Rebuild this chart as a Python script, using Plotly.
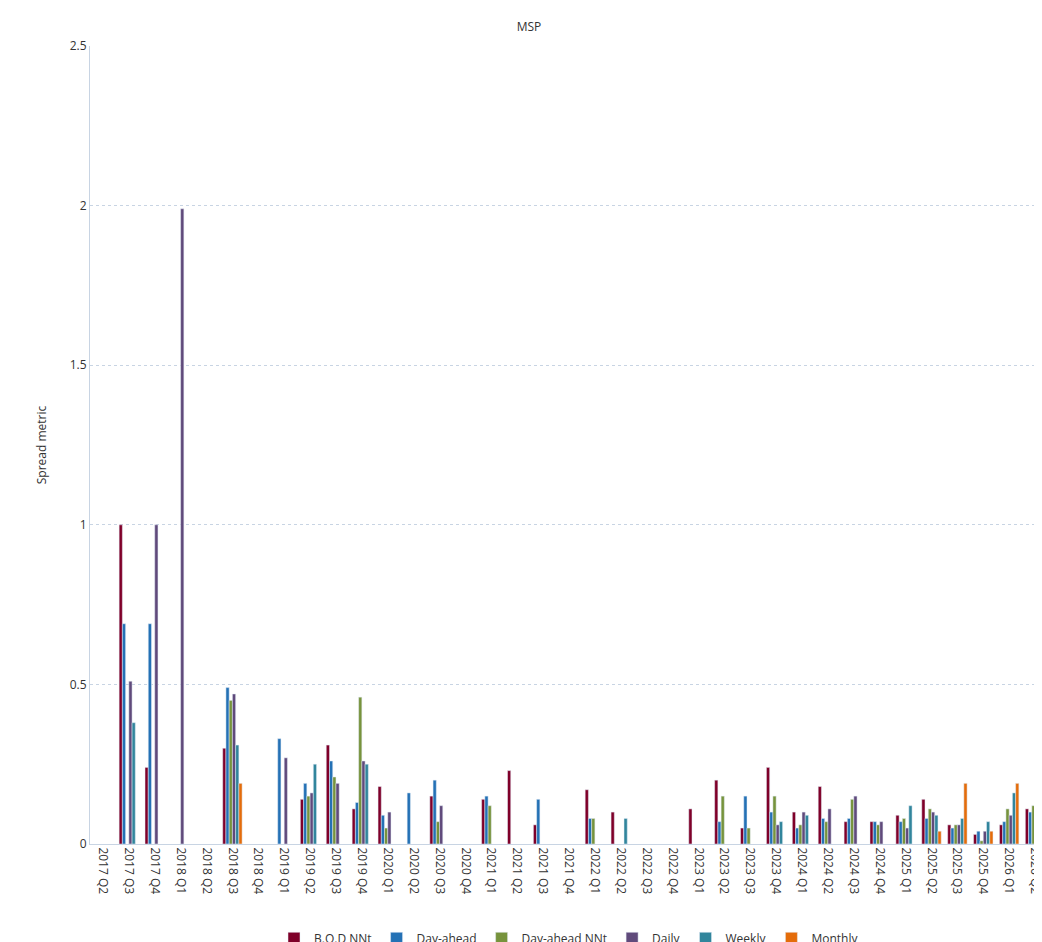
import plotly.graph_objects as go

quarters = [f"{y} Q{q}" for y in range(2017, 2027) for q in range(1, 5)][1:38]

N = None
bod = [N, 1.0, 0.24, N, N, 0.30, N, N, 0.14, 0.31, 0.11, 0.18, N, 0.15, N, 0.14, 0.23, 0.06, N, 0.17, 0.10, N, N, 0.11, 0.20, 0.05, 0.24, 0.10, 0.18, 0.07, 0.07, 0.09, 0.14, 0.06, 0.03, 0.06, 0.11]
day_ahead = [N, 0.69, 0.69, N, N, 0.49, N, 0.33, 0.19, 0.26, 0.13, 0.09, 0.16, 0.20, N, 0.15, N, 0.14, N, 0.08, N, N, N, N, 0.07, 0.15, 0.10, 0.05, 0.08, 0.08, 0.07, 0.07, 0.08, 0.05, 0.04, 0.07, 0.10]
day_ahead_nnt = [N, N, N, N, N, 0.45, N, N, 0.15, 0.21, 0.46, 0.05, N, 0.07, N, 0.12, N, N, N, 0.08, N, N, N, N, 0.15, 0.05, 0.15, 0.06, 0.07, 0.14, 0.06, 0.08, 0.11, 0.06, 0.01, 0.11, 0.12]
daily = [N, 0.51, 1.0, 1.99, N, 0.47, N, 0.27, 0.16, 0.19, 0.26, 0.10, N, 0.12, N, N, N, N, N, N, N, N, N, N, N, N, 0.06, 0.10, 0.11, 0.15, 0.07, 0.05, 0.10, 0.06, 0.04, 0.09, 0.12]
weekly = [N, 0.38, N, N, N, 0.31, N, N, 0.25, N, 0.25, N, N, N, N, N, N, N, N, N, 0.08, N, N, N, N, N, 0.07, 0.09, N, N, N, 0.12, 0.09, 0.08, 0.07, 0.16, 0.07]
monthly = [N, N, N, N, N, 0.19, N, N, N, N, N, N, N, N, N, N, N, N, N, N, N, N, N, N, N, N, N, N, N, N, N, N, 0.04, 0.19, 0.04, 0.19, 0.17]

series = [
    ("B.O.D NNt", bod, "#7f0029"),
    ("Day-ahead", day_ahead, "#2471b5"),
    ("Day-ahead NNt", day_ahead_nnt, "#77933c"),
    ("Daily", daily, "#604a7b"),
    ("Weekly", weekly, "#31859c"),
    ("Monthly", monthly, "#e46c0a"),
]

fig = go.Figure()
for name, vals, col in series:
    fig.add_trace(go.Bar(x=quarters, y=vals, name=name, marker_color=col))

fig.update_layout(
    width=1042, height=942,
    barmode="group", bargap=0.25, bargroupgap=0,
    plot_bgcolor="white", paper_bgcolor="white",
    font=dict(family="Open Sans", size=12, color="#333"),
    title=dict(text="MSP", x=0.5, y=0.985, font=dict(size=12)),
    margin=dict(l=82, r=2, t=38, b=106, autoexpand=False),
    legend=dict(orientation="h", x=0.5, xanchor="center", y=-0.1, yanchor="top",
                font=dict(size=12), itemwidth=30),
    yaxis=dict(title=dict(text="Spread metric", standoff=20, font=dict(size=12)),
               range=[0, 2.5], dtick=0.5, tickfont=dict(size=12),
               gridcolor="#c8d4e3", griddash="dot", showline=True, linecolor="#c8d4e3",
               zeroline=False, tickformat="~g"),
    xaxis=dict(tickangle=90, showline=True, linecolor="#c8d4e3", tickfont=dict(size=12)),
)

fig.write_html("out.html")
